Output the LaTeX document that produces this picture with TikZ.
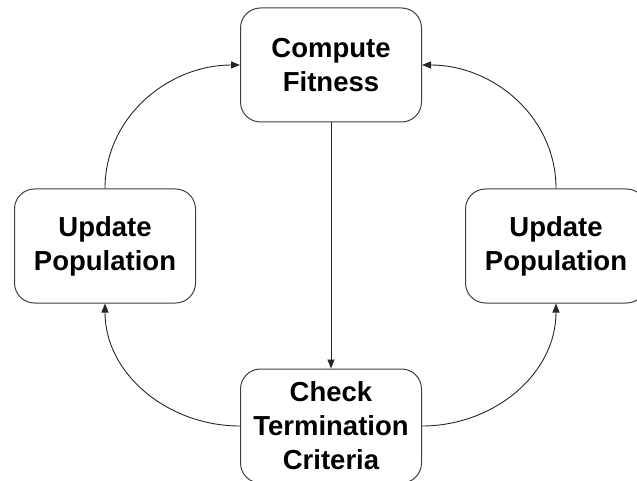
\documentclass[tikz,border=0pt]{standalone}
\usepackage{fontspec}
\setmainfont{Liberation Sans}
\usetikzlibrary{arrows.meta}
\begin{document}
\begin{tikzpicture}[x=1pt,y=-1pt,
  box/.style={draw=black!75, line width=1pt, rounded corners=20pt, fill=white,
    minimum width=181pt, minimum height=114pt, inner sep=0pt, align=center,
    font=\fontsize{27.5}{34}\selectfont\bfseries},
  conn/.style={draw=black!85, line width=0.9pt, -{Triangle[length=9pt,width=7pt]}}]
\useasboundingbox (0,0) rectangle (637,481);
\node[box] (cf) at (331,65) {Compute\\Fitness};
\node[box] (ul) at (105,246) {Update\\Population};
\node[box] (ur) at (556,246) {Update\\Population};
\node[box] (ct) at (331,426) {Check\\Termination\\Criteria};
\draw[conn] (cf) -- (ct);
\draw[conn] (ul.north) to[out=90,in=180] (cf.west);
\draw[conn] (ur.north) to[out=90,in=0] (cf.east);
\draw[conn] (ct.west) to[out=180,in=-90] (ul.south);
\draw[conn] (ct.east) to[out=0,in=-90] (ur.south);
\end{tikzpicture}
\end{document}
